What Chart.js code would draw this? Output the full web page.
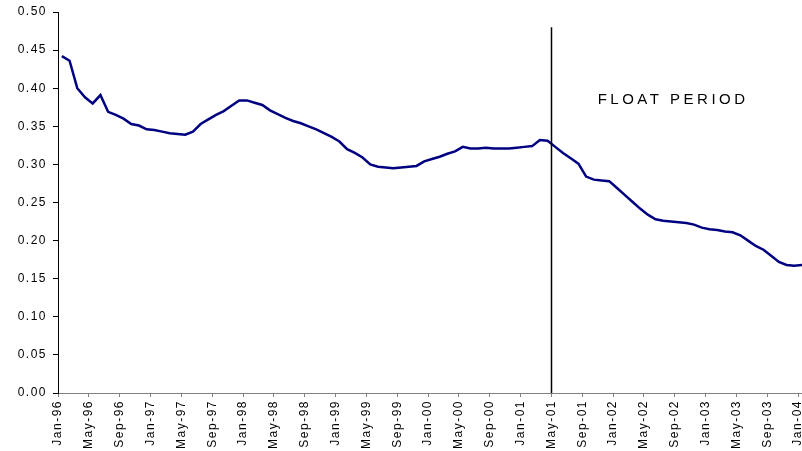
<!DOCTYPE html>
<html>
<head>
<meta charset="utf-8">
<script src="https://cdn.jsdelivr.net/npm/chart.js@4/dist/chart.umd.min.js"></script>
<style>
  html, body { margin: 0; padding: 0; background: #fff; }
  #wrap { width: 802px; height: 451px; position: relative; }
</style>
</head>
<body>
<div id="wrap"><canvas id="floatChart"></canvas></div>
<script>
// tick labels, one every 4 months (Jan-96 .. Jan-04)
const tickLabels = [
  "Jan-96", "May-96", "Sep-96", "Jan-97", "May-97", "Sep-97", "Jan-98", "May-98", "Sep-98",
  "Jan-99", "May-99", "Sep-99", "Jan-00", "May-00", "Sep-00", "Jan-01", "May-01", "Sep-01",
  "Jan-02", "May-02", "Sep-02", "Jan-03", "May-03", "Sep-03", "Jan-04"
];
const monthsPerTick = 4;

// monthly values, Jan-96 .. Jan-04
const values = [
  0.442, 0.436, 0.400, 0.388, 0.380, 0.391, 0.369, 0.365, 0.360, 0.353, 0.351, 0.346, // 1996
  0.345, 0.343, 0.341, 0.340, 0.339, 0.343, 0.353, 0.359, 0.365, 0.370, 0.377, 0.384, // 1997
  0.384, 0.381, 0.378, 0.371, 0.366, 0.361, 0.357, 0.354, 0.350, 0.346, 0.341, 0.336, // 1998
  0.330, 0.320, 0.315, 0.309, 0.300, 0.297, 0.296, 0.295, 0.296, 0.297, 0.298, 0.304, // 1999
  0.307, 0.310, 0.314, 0.317, 0.323, 0.321, 0.321, 0.322, 0.321, 0.321, 0.321, 0.322, // 2000
  0.323, 0.324, 0.332, 0.331, 0.323, 0.315, 0.308, 0.301, 0.284, 0.280, 0.279, 0.278, // 2001
  0.269, 0.260, 0.251, 0.242, 0.234, 0.228, 0.226, 0.225, 0.224, 0.223, 0.221, 0.217, // 2002
  0.215, 0.214, 0.212, 0.211, 0.207, 0.200, 0.193, 0.188, 0.180, 0.172, 0.168, 0.167, // 2003
  0.168                                                                               // 2004
];

// float period starts at May-01
const floatStartLabel = "May-01";
const floatText = "FLOAT PERIOD";

const floatStart = tickLabels.indexOf(floatStartLabel) * monthsPerTick;
const lastMonth = (tickLabels.length - 1) * monthsPerTick;

// points sit between tick marks (Excel style), half a month right of the tick
const points = values.map((v, i) => ({ x: i + 0.5, y: v }));

const spacingPlugin = {
  id: "spacing",
  beforeLayout(chart) { chart.ctx.letterSpacing = "1.5px"; },
  beforeDraw(chart) { chart.ctx.letterSpacing = "1.5px"; }
};

const floatPlugin = {
  id: "floatLine",
  afterDatasetsDraw(chart) {
    const { ctx, scales: { x, y } } = chart;
    const px = Math.round(x.getPixelForValue(floatStart)) + 0.5;
    ctx.save();
    ctx.strokeStyle = "#000";
    ctx.lineWidth = 1.5;
    ctx.beginPath();
    ctx.moveTo(px, y.getPixelForValue(0.48));
    ctx.lineTo(px, y.getPixelForValue(0));
    ctx.stroke();

    ctx.letterSpacing = "3.5px";
    ctx.fillStyle = "#000";
    ctx.font = "15px 'Liberation Sans', Arial, sans-serif";
    ctx.textBaseline = "middle";
    ctx.textAlign = "left";
    ctx.fillText(floatText, x.getPixelForValue(floatStart + 6), y.getPixelForValue(0.385));
    ctx.restore();
  }
};

new Chart(document.getElementById("floatChart"), {
  type: "line",
  data: {
    datasets: [
      {
        data: points,
        borderColor: "#000080",
        borderWidth: 2.5,
        pointRadius: 0,
        tension: 0,
        fill: false,
      },
    ],
  },
  options: {
    responsive: true,
    maintainAspectRatio: false,
    animation: false,
    layout: { padding: { top: 12, right: 0, left: 0, bottom: 0 } },
    plugins: { legend: { display: false }, tooltip: { enabled: false } },
    scales: {
      x: {
        type: "linear",
        min: 0,
        max: lastMonth + 0.5,
        afterFit: (s) => { s.paddingRight = 0; s.paddingLeft = 0; s.height = 58; },
        border: { color: "#808080", width: 1 },
        grid: { drawOnChartArea: false, drawTicks: true, tickLength: 4, color: "#808080" },
        ticks: {
          stepSize: monthsPerTick,
          includeBounds: false,
          autoSkip: false,
          minRotation: 90,
          maxRotation: 90,
          padding: 3,
          color: "#000",
          font: { family: "'Liberation Sans', Arial, sans-serif", size: 12 },
          callback: (v) => tickLabels[v / monthsPerTick],
        },
      },
      y: {
        min: 0,
        max: 0.5,
        afterFit: (s) => { s.width = 58; s.paddingTop = 0; s.paddingBottom = 0; },
        border: { color: "#000", width: 1 },
        grid: { drawOnChartArea: false, drawTicks: true, tickLength: 5, color: "#000" },
        ticks: {
          stepSize: 0.05,
          padding: 6,
          color: "#000",
          font: { family: "'Liberation Sans', Arial, sans-serif", size: 12 },
          callback: (v) => v.toFixed(2),
        },
      },
    },
  },
  plugins: [spacingPlugin, floatPlugin],
});
</script>
</body>
</html>
